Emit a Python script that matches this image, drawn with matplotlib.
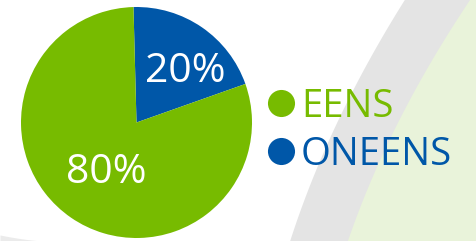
import numpy as np
import matplotlib
matplotlib.use("Agg")
import matplotlib.pyplot as plt

# data
labels = ["ONEENS", "EENS"]
values = [20, 80]
pct_text = ["20%", "80%"]
colors = ["#0057a8", "#77bb00"]
legend_labels = ["EENS", "ONEENS"]
legend_colors = ["#77bb00", "#0057a8"]

W, H = 477, 241
fig = plt.figure(figsize=(W / 100, H / 100), dpi=100)
ax = fig.add_axes([0, 0, 1, 1])

# background decoration: grey swoosh and light green area
yy = np.linspace(0, H, 60)
grey_fit = np.polyfit([0, 80, 160, 241], [405, 358, 321, 290], 2)
green_fit = np.polyfit([0, 80, 160, 241], [470, 421, 380, 348], 2)
ax.fill_betweenx(H - yy, np.polyval(grey_fit, yy), W, color="#e4e4e4", lw=0, zorder=0)
ax.fill_betweenx(H - yy, np.polyval(green_fit, yy), W, color="#e9f3da", lw=0, zorder=0)
xs = np.linspace(0, 45, 20)
ax.fill_between(xs, 0, 6 * (1 - xs / 45) ** 1.5, color="#ebebeb", lw=0, zorder=0)

cx, cy, r = 136.5, H - 122.5, 115.5
wedges, _ = ax.pie(values, colors=colors, startangle=91.5, counterclock=False,
                   center=(cx, cy), radius=r, wedgeprops=dict(linewidth=0))

# label placement: fraction of radius, angle shift from wedge middle (deg)
label_dist = [0.64, 0.47]
label_shift = [-6.5, 1.0]
for w, t, d, s in zip(wedges, pct_text, label_dist, label_shift):
    mid = np.deg2rad((w.theta1 + w.theta2) / 2 + s)
    ax.text(cx + d * r * np.cos(mid), cy + d * r * np.sin(mid), t,
            color="white", fontsize=29.5, family="Open Sans",
            ha="center", va="center_baseline")

# legend drawn by hand: circle + coloured label
for i, (lab, col) in enumerate(zip(legend_labels, legend_colors)):
    yc = H - (102.5 + 48.3 * i)
    ax.plot([281.5], [yc], marker="o", ms=19.5, color=col, mew=0, ls="none")
    ax.text(301, yc, lab, color=col, fontsize=27.5, family="Open Sans",
            ha="left", va="center_baseline")

ax.set_xlim(0, W)
ax.set_ylim(0, H)
ax.set_aspect("auto")
ax.axis("off")

fig.savefig("out.png", dpi=100, facecolor="white")
